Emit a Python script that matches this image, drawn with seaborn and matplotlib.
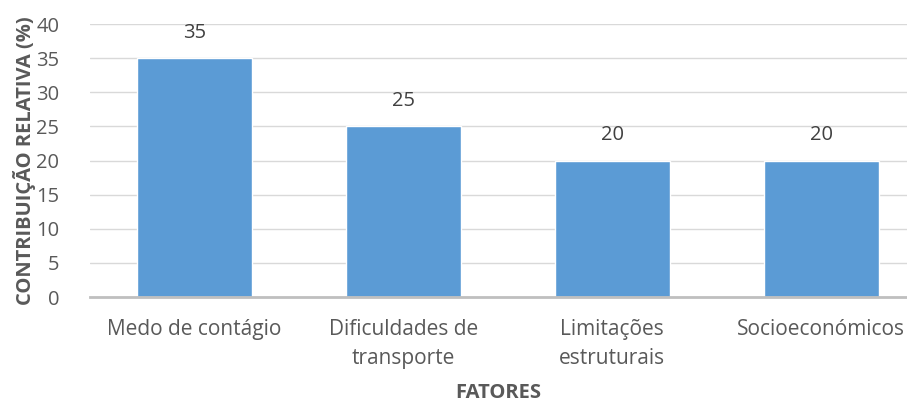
import numpy as np
import matplotlib
matplotlib.use("Agg")
import matplotlib.pyplot as plt
import seaborn as sns
import pandas as pd

# chart data
fatores = ['Medo de contágio', 'Dificuldades de\ntransporte', 'Limitações\nestruturais', 'Socioeconómicos']
contribuicao = [35, 25, 20, 20]
y_ticks = [0, 5, 10, 15, 20, 25, 30, 35, 40]

sns.set_theme(style='white')
plt.rcParams['font.family'] = ['Open Sans', 'DejaVu Sans']

df = pd.DataFrame({'Fator': fatores, 'Valor': contribuicao})

fig = plt.figure(figsize=(9.07, 4.03), dpi=100)
ax = fig.add_axes([0.099, 0.263, 0.901, 0.677])

sns.barplot(data=df, x='Fator', y='Valor', color='#5B9BD5', width=0.55,
            saturation=1, ax=ax, zorder=3)

ax.set_ylim(0, 40)
ax.set_xlim(-0.5, 3.41)
ax.set_yticks(y_ticks)
ax.set_yticklabels([str(t) for t in y_ticks], fontsize=14.5, color='#595959')
ax.set_xticks(range(len(fatores)))
ax.set_xticklabels(fatores, fontsize=15, color='#595959', linespacing=1.5)
ax.tick_params(axis='x', length=0, pad=16)
ax.tick_params(axis='y', length=0, pad=22)

ax.grid(axis='y', color='#D9D9D9', linewidth=1, zorder=0)
for s in ['top', 'right', 'left']:
    ax.spines[s].set_visible(False)
ax.spines['bottom'].set_color('#BFBFBF')
ax.spines['bottom'].set_linewidth(2)
ax.spines['bottom'].set_zorder(4)

for cont in ax.containers:
    ax.bar_label(cont, labels=[str(v) for v in contribuicao], padding=11,
                 fontsize=14.5, color='#404040')

ax.set_ylabel('CONTRIBUIÇÃO RELATIVA (%)', fontsize=14.5, fontweight='bold',
              color='#595959', labelpad=0)
ax.set_xlabel('FATORES', fontsize=14.5, fontweight='bold', color='#595959',
              labelpad=10)

fig.savefig('out.png', dpi=100)
